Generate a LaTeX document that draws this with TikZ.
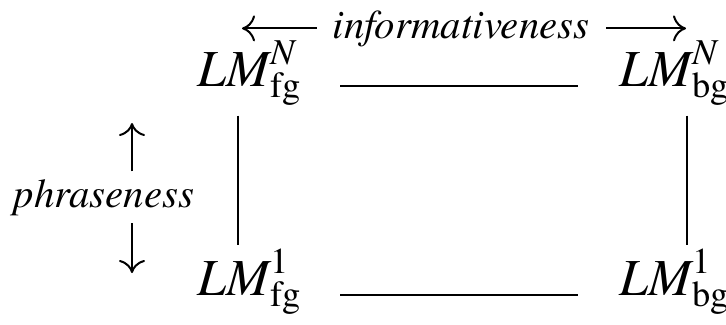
\documentclass[tikz,border=0pt]{standalone}
\usepackage{amsmath}
\usepackage{fontspec}
\setmainfont{TeX Gyre Termes}
\usetikzlibrary{arrows.meta}

\begin{document}
\begin{tikzpicture}[x=0.25pt, y=-0.25pt,
    lm/.style={anchor=base west, inner sep=0pt, font=\fontsize{13}{15}\selectfont},
    lbl/.style={anchor=base, inner sep=0pt, font=\fontsize{10.2}{12}\selectfont\itshape},
    link/.style={line width=0.5pt},
    dir/.style={-{Computer Modern Rightarrow[length=3.25pt,width=6.5pt]}, line width=0.5pt},
  ]
  \useasboundingbox (0,0) rectangle (726,324);

  % four language models
  \node[lm] (fgN) at (197,86)  {$\textit{LM}^{\textit{N}}_{\text{fg}}$};
  \node[lm] (bgN) at (619,86)  {$\textit{LM}^{\textit{N}}_{\text{bg}}$};
  \node[lm] (fg1) at (197,295) {$\textit{LM}^{\text{1}}_{\text{fg}}$};
  \node[lm] (bg1) at (619,295) {$\textit{LM}^{\text{1}}_{\text{bg}}$};

  % axis labels
  \node[lbl] (info) at (461,38)  {informativeness};
  \node[lbl] (phr)  at (104,207) {phraseness};
  \coordinate (infoL) at (242,27);
  \coordinate (infoR) at (686,27);
  \coordinate (phrT)  at (132,123);
  \coordinate (phrB)  at (132,273);

  \draw[dir, shorten <=3.75pt] (info.west) -- (info.west -| infoL);
  \draw[dir, shorten <=4pt] (info.east) -- (info.east -| infoR);
  \draw[dir, shorten <=1.75pt] (phr.north -| phrT) -- (phrT);
  \draw[dir, shorten <=1.75pt] (phr.south -| phrB) -- (phrB);

  % square
  \draw[link, shorten <=9.25pt, shorten >=10.25pt] (fgN.base east) -- (bgN.base west);
  \draw[link, shorten <=9.25pt, shorten >=10.25pt] (fg1.base east) -- (bg1.base west);
  \draw[link, shorten <=2.25pt, shorten >=0.75pt]
    ([xshift=10.25pt]fgN.south west) -- ([xshift=10.25pt]fg1.north west);
  \draw[link, shorten <=2.25pt, shorten >=0.75pt]
    ([xshift=17pt]bgN.south west) -- ([xshift=17pt]bg1.north west);
\end{tikzpicture}
\end{document}
